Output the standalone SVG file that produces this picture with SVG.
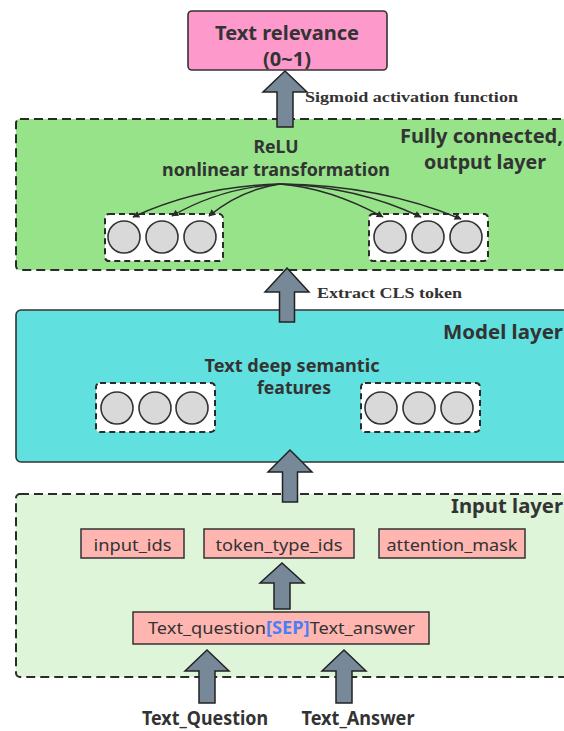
<svg xmlns="http://www.w3.org/2000/svg" width="564" height="731" viewBox="0 0 564 731">
  <style>
    .title { font-family: "Noto Sans", "Open Sans", sans-serif; font-weight: 700; fill: #333; }
    .lbl { font-family: "Noto Sans", "Open Sans", sans-serif; font-weight: 400; fill: #333; font-size: 17px; }
    .serif { font-family: "Liberation Serif", "DejaVu Serif", serif; font-weight: 700; fill: #333; font-size: 15px; }
    .big { stroke: #2b2b2b; stroke-width: 2; stroke-dasharray: 9 5; }
    .grp { fill: #fff; stroke: #2b2b2b; stroke-width: 2; stroke-dasharray: 6 4; }
    .neuron { fill: #d9d9d9; stroke: #333; stroke-width: 1.6; }
    .tok { fill: #ffb6b1; stroke: #333; stroke-width: 1.5; }
    .block { fill: #778899; stroke: #222; stroke-width: 1.5; stroke-linejoin: miter; }
    .fan { fill: none; stroke: #2b2b2b; stroke-width: 1.4; }
  </style>
  <defs>
    <marker id="tip" viewBox="0 0 10 10" refX="9" refY="5" markerWidth="8" markerHeight="7" orient="auto" markerUnits="userSpaceOnUse">
      <path d="M0,0 L10,5 L0,10 z" fill="#2b2b2b"/>
    </marker>
  </defs>

  <!-- output node -->
  <g id="output">
    <rect x="188" y="11" width="199" height="59" rx="4" fill="#fd9acb" stroke="#333" stroke-width="1.6"/>
    <text class="title" x="287" y="40" font-size="20" text-anchor="middle" textLength="144" lengthAdjust="spacingAndGlyphs">Text relevance</text>
    <text class="title" x="287" y="66" font-size="20" text-anchor="middle">(0~1)</text>
  </g>

  <!-- fully connected / output layer -->
  <g id="fc-layer">
    <rect class="big" x="16" y="119" width="580" height="151" rx="4" fill="#96e38a"/>
    <text class="title" x="400" y="143" font-size="20" textLength="163" lengthAdjust="spacingAndGlyphs">Fully connected,</text>
    <text class="title" x="424" y="169" font-size="20" textLength="122" lengthAdjust="spacingAndGlyphs">output layer</text>
    <text class="title" x="276" y="153" font-size="18" text-anchor="middle" textLength="45" lengthAdjust="spacingAndGlyphs">ReLU</text>
    <text class="title" x="276" y="176" font-size="18" text-anchor="middle" textLength="228" lengthAdjust="spacingAndGlyphs">nonlinear transformation</text>
  </g>
  <g id="fc-left">
    <rect class="grp" x="105" y="214" width="118" height="47" rx="4"/>
    <circle class="neuron" cx="124" cy="237" r="16"/>
    <circle class="neuron" cx="162" cy="237" r="16"/>
    <circle class="neuron" cx="200" cy="237" r="16"/>
  </g>
  <g id="fc-right">
    <rect class="grp" x="369" y="214" width="119" height="47" rx="4"/>
    <circle class="neuron" cx="390" cy="237" r="16"/>
    <circle class="neuron" cx="428" cy="237" r="16"/>
    <circle class="neuron" cx="466" cy="237" r="16"/>
  </g>

  <!-- model layer -->
  <g id="model-layer">
    <rect x="16" y="310" width="580" height="152" rx="5" fill="#61e0e0" stroke="#333" stroke-width="1.6"/>
    <text class="title" x="443" y="339" font-size="20" textLength="120" lengthAdjust="spacingAndGlyphs">Model layer</text>
    <text class="title" x="292" y="372" font-size="17" text-anchor="middle" textLength="175" lengthAdjust="spacingAndGlyphs">Text deep semantic</text>
    <text class="title" x="294" y="394" font-size="17" text-anchor="middle" textLength="74" lengthAdjust="spacingAndGlyphs">features</text>
  </g>
  <g id="model-left">
    <rect class="grp" x="96" y="383" width="119" height="49" rx="4"/>
    <circle class="neuron" cx="117" cy="408" r="16"/>
    <circle class="neuron" cx="155" cy="408" r="16"/>
    <circle class="neuron" cx="192" cy="408" r="16"/>
  </g>
  <g id="model-right">
    <rect class="grp" x="361" y="383" width="119" height="49" rx="4"/>
    <circle class="neuron" cx="381" cy="408" r="16"/>
    <circle class="neuron" cx="419" cy="408" r="16"/>
    <circle class="neuron" cx="457" cy="408" r="16"/>
  </g>

  <!-- input layer -->
  <g id="input-layer">
    <rect class="big" x="16" y="494" width="580" height="183" rx="4" fill="#def5da"/>
    <text class="title" x="451" y="513" font-size="20" textLength="112" lengthAdjust="spacingAndGlyphs">Input layer</text>
  </g>
  <g id="input-ids">
    <rect class="tok" x="81" y="529" width="103" height="29"/>
    <text class="lbl" x="132.5" y="551" text-anchor="middle" textLength="78" lengthAdjust="spacingAndGlyphs">input_ids</text>
  </g>
  <g id="token-type-ids">
    <rect class="tok" x="204" y="529" width="150" height="29"/>
    <text class="lbl" x="279" y="551" text-anchor="middle" textLength="127" lengthAdjust="spacingAndGlyphs">token_type_ids</text>
  </g>
  <g id="attention-mask">
    <rect class="tok" x="379" y="529" width="146" height="29"/>
    <text class="lbl" x="452" y="551" text-anchor="middle" textLength="131" lengthAdjust="spacingAndGlyphs">attention_mask</text>
  </g>
  <g id="pair">
    <rect class="tok" x="133" y="612" width="296" height="32"/>
    <text class="lbl" x="148" y="634" textLength="267" lengthAdjust="spacingAndGlyphs">Text_question<tspan fill="#4a7ff5" font-weight="700">[SEP]</tspan>Text_answer</text>
  </g>

  <!-- source labels -->
  <g id="text-question">
    <text class="title" x="205" y="725" font-size="19" text-anchor="middle" textLength="126" lengthAdjust="spacingAndGlyphs">Text_Question</text>
  </g>
  <g id="text-answer">
    <text class="title" x="358" y="725" font-size="19" text-anchor="middle" textLength="113" lengthAdjust="spacingAndGlyphs">Text_Answer</text>
  </g>

  <!-- connectors -->
  <g id="connectors">
    <!-- block arrows pointing up -->
    <path class="block" d="M285,71 L307,92 L293,92 L293,127 L277,127 L277,92 L263,92 Z"/>
    <path class="block" d="M287,268 L309,292 L294.5,292 L294.5,322 L279.5,322 L279.5,292 L265,292 Z"/>
    <path class="block" d="M290,450 L312,472 L297.5,472 L297.5,502 L282.5,502 L282.5,472 L268,472 Z"/>
    <path class="block" d="M282,563 L304,583 L290,583 L290,609 L274,609 L274,583 L260,583 Z"/>
    <path class="block" d="M207,650 L229,671 L215,671 L215,703 L199,703 L199,671 L185,671 Z"/>
    <path class="block" d="M344,650 L366,671 L352,671 L352,703 L336,703 L336,671 L322,671 Z"/>

    <text class="serif" x="305" y="102" textLength="213" lengthAdjust="spacingAndGlyphs">Sigmoid activation function</text>
    <text class="serif" x="317" y="298" textLength="145" lengthAdjust="spacingAndGlyphs">Extract CLS token</text>

    <!-- ReLU fan-out to neurons -->
    <path class="fan" marker-end="url(#tip)" d="M280,184 Q200,186 133,217"/>
    <path class="fan" marker-end="url(#tip)" d="M280,184 Q220,188 172,216"/>
    <path class="fan" marker-end="url(#tip)" d="M280,184 Q240,190 209,216"/>
    <path class="fan" marker-end="url(#tip)" d="M280,184 Q330,188 383,217"/>
    <path class="fan" marker-end="url(#tip)" d="M280,184 Q355,186 421,217"/>
    <path class="fan" marker-end="url(#tip)" d="M280,184 Q380,185 461,219"/>
  </g>
</svg>
